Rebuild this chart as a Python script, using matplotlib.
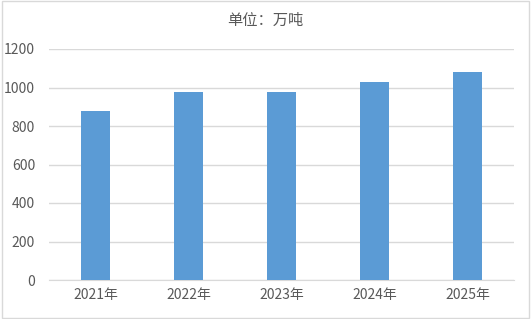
import numpy as np
import matplotlib
matplotlib.use('Agg')
import matplotlib.pyplot as plt
from matplotlib.patches import Rectangle

plt.rcParams['font.family'] = ['Noto Sans CJK SC', 'DejaVu Sans']

years = ['2021年', '2022年', '2023年', '2024年', '2025年']
values = [878, 977, 979, 1031, 1081]
yticks = [0, 200, 400, 600, 800, 1000, 1200]

fig = plt.figure(figsize=(5.31, 3.19), dpi=100)
ax = fig.add_axes([49 / 531, 1 - 280 / 319, (514 - 49) / 531, (280 - 49) / 319])

x = np.arange(len(years))
ax.bar(x, values, width=0.31, color='#5B9BD5', zorder=3)

ax.set_xlim(-0.5, len(years) - 0.5)
ax.set_ylim(0, 1200)
ax.set_yticks(yticks)
ax.set_xticks(x)
ax.set_xticklabels(years)
ax.yaxis.grid(True, color='#d9d9d9', linewidth=1.0, zorder=0)
ax.tick_params(axis='both', length=0, colors='#595959', labelsize=10)
ax.tick_params(axis='x', pad=6)
ax.tick_params(axis='y', pad=10)
for side in ['top', 'right', 'left']:
    ax.spines[side].set_visible(False)
ax.spines['bottom'].set_color('#d9d9d9')

fig.text(0.5, 1 - 20 / 319, '单位：万吨', ha='center', va='center', fontsize=11, color='#595959')

# outer chart frame
fig.patches.append(Rectangle((0.004, 0.004), 0.992, 0.992, transform=fig.transFigure,
                             fill=False, edgecolor='#d9d9d9', linewidth=1.0))

fig.savefig('out.png', dpi=100)
